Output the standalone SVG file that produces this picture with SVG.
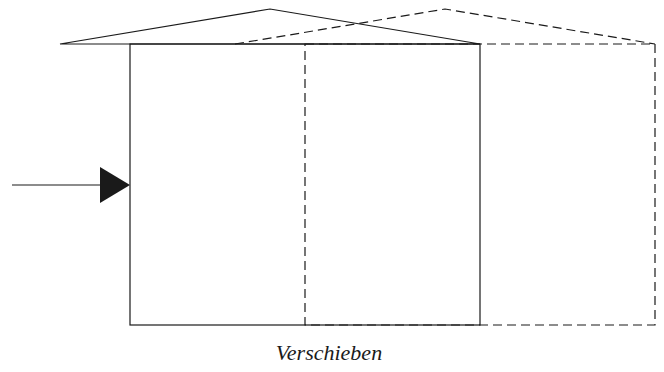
<svg xmlns="http://www.w3.org/2000/svg" width="664" height="372" viewBox="0 0 664 372">
<style>
.s{fill:none;stroke:#1a1a1a;stroke-width:1.2}
.d{fill:none;stroke:#1a1a1a;stroke-width:1.2;stroke-dasharray:9 5}
.t{font-family:"Liberation Serif","Times New Roman",serif;font-style:italic;font-size:22px;fill:#1a1a1a}
</style>
<rect width="664" height="372" fill="#fff"/>
<g id="house-moved">
<polyline class="d" points="235,44 445,9 655,44"/>
<rect class="d" x="305" y="44" width="350" height="281"/>
</g>
<g id="house">
<polygon class="s" points="60,44 270,9 480,44"/>
<rect class="s" x="130" y="44" width="350" height="281"/>
</g>
<g id="connectors">
<line class="s" x1="12" y1="185" x2="101" y2="185"/>
<polygon points="100,167 130,185 100,203" fill="#1a1a1a"/>
</g>
<g id="label">
<text class="t" x="329" y="360" text-anchor="middle">Verschieben</text>
</g>
</svg>
